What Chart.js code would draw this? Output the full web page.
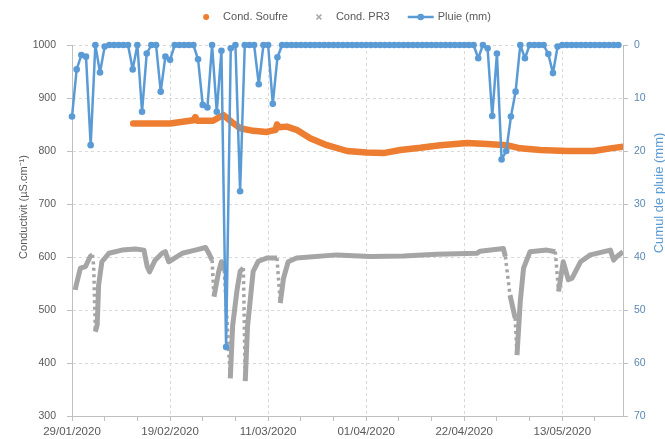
<!DOCTYPE html>
<html><head><meta charset="utf-8">
<script src="https://cdn.jsdelivr.net/npm/chart.js@4.4.1/dist/chart.umd.min.js"></script>
<style>html,body{margin:0;padding:0;background:#fff;}canvas{display:block;}</style>
</head><body>
<canvas id="c" width="665" height="439"></canvas>
<script>
// ---- data (x = days since 29/01/2020) ----
const dateLabels = ['29/01/2020','19/02/2020','11/03/2020','01/04/2020','22/04/2020','13/05/2020'];
const seriesNames = ['Cond. Soufre','Cond. PR3','Pluie (mm)'];
const axisTitles = ['Conductivit (µS.cm⁻¹)','Cumul de pluie (mm)'];

// daily rain, day 0 .. 117
const rainMm = [13.5,4.6,1.9,2.2,18.9,0,5.2,0.3,0,0,
  0,0,0,4.6,0,12.6,1.6,0,0,8.8,
  2.2,2.8,0,0,0,0,0,2.7,11.3,11.8,
  0,12.6,1.1,57,0.6,0,27.6,0,0,0,
  7.4,0,0,11.1,2.3,0,0,0,0,0,
  0,0,0,0,0,0,0,0,0,0,
  0,0,0,0,0,0,0,0,0,0,
  0,0,0,0,0,0,0,0,0,0,
  0,0,0,0,0,0,0,2.5,0,0.6,
  13.4,1.6,21.6,20,13.5,8.8,0,2.5,0,0,
  0,0,1.7,5.3,0.3,0,0,0,0,0,
  0,0,0,0,0,0,0,0];

const soufreDay = [13.1,17.4,21,26,26.4,26.8,30.2,32.4,34.6,36,38.8,41.7,43.6,43.9,44.3,46,48.1,51,54.6,58.9,63.1,66.7,70.3,74.6,78.9,84.6,88.9,93.1,96,100.3,106,111.7,115.3,118];
const soufreVal = [852,852,852,858,864,857,857,868,852,843,838,836,840,850,845,846,840,824,811,800,797,796,802,806,811,815,813,811,805,802,800,800,805,808];

const pr3Day = [0.7,0.9,1.8,2.9,3.9,4.4,4.65,5.0,5.4,5.7,6.4,7.9,10.7,13.6,15.4,16.1,16.6,17.8,19.3,20,20.7,23.6,26.4,28.6,29.3,30,30.4,31.4,32,32.6,33.9,34.4,35.3,36,36.7,37.1,37.6,38.8,39.9,41.7,43.9,44.6,45.3,46.3,48.1,56.7,63.9,71,78.1,86.7,87.4,92.4,92.8,93.8,94.9,95.3,96,96.7,98.1,101.7,103.5,104.2,105.2,106.3,107.1,108.9,111,115.3,116,116.7,118];
const pr3Val = [538,547,579,582,601,604,582,459,472,547,591,607,613,615,613,582,572,594,607,610,591,607,613,618,607,594,525,572,591,575,371,470,535,573,579,366,470,573,592,598,598,513,560,591,598,604,601,602,605,607,611,616,601,528,485,415,516,579,610,613,610,535,591,557,560,591,604,613,594,601,610];

// ---- styling ----
const FONT = '"Liberation Sans", Arial, sans-serif';
const TXT = '#595959';
const COL = {soufre:'#ED7D31', pr3:'#A5A5A5', rain:'#5B9BD5', rainAxis:'#5B87B5'};

const toXY = (xs, ys) => xs.map((x, i) => ({x: x, y: ys[i]}));
const steepDrop = c => {
  const dx = c.p1.parsed.x - c.p0.parsed.x, dy = c.p1.parsed.y - c.p0.parsed.y;
  return dx > 0 && dy / dx < -60;
};

const decor = {
  id: 'decor',
  afterDraw(chart) {
    const ctx = chart.ctx;
    ctx.save();
    ctx.textBaseline = 'middle';
    // axis titles
    ctx.textAlign = 'center';
    ctx.font = '11px ' + FONT;
    ctx.fillStyle = TXT;
    ctx.save(); ctx.translate(24, 207); ctx.rotate(-Math.PI/2); ctx.fillText(axisTitles[0], 0, 0); ctx.restore();
    ctx.font = '13px ' + FONT;
    ctx.fillStyle = COL.rain;
    ctx.save(); ctx.translate(659, 193); ctx.rotate(-Math.PI/2); ctx.fillText(axisTitles[1], 0, 0); ctx.restore();
    // legend
    ctx.font = '11px ' + FONT;
    const ds = chart.data.datasets;
    const iconW = 26, gap = 4, itemGap = 18, cy = 17;
    const widths = ds.map(d => iconW + gap + ctx.measureText(d.label).width);
    const total = widths.reduce((a, b) => a + b, 0) + itemGap * (ds.length - 1);
    let x = 342 - total / 2;
    ctx.textAlign = 'left';
    ds.forEach((d, i) => {
      const cx = x + iconW / 2;
      if (i === 0) {
        ctx.fillStyle = d.borderColor; ctx.beginPath(); ctx.arc(cx, cy, 3, 0, Math.PI*2); ctx.fill();
      } else if (i === 1) {
        ctx.strokeStyle = d.borderColor; ctx.lineWidth = 1.5; ctx.beginPath();
        ctx.moveTo(cx-2.5, cy-2.5); ctx.lineTo(cx+2.5, cy+2.5); ctx.moveTo(cx+2.5, cy-2.5); ctx.lineTo(cx-2.5, cy+2.5); ctx.stroke();
      } else {
        ctx.strokeStyle = d.borderColor; ctx.lineWidth = 2.5; ctx.beginPath();
        ctx.moveTo(x, cy); ctx.lineTo(x + iconW, cy); ctx.stroke();
        ctx.fillStyle = d.borderColor; ctx.beginPath(); ctx.arc(cx, cy, 3.3, 0, Math.PI*2); ctx.fill();
      }
      ctx.fillStyle = TXT;
      ctx.fillText(d.label, x + iconW + gap, cy);
      x += widths[i] + itemGap;
    });
    ctx.restore();
  }
};

new Chart(document.getElementById('c'), {
  type: 'scatter',
  data: {
    datasets: [
      {label: seriesNames[0], data: toXY(soufreDay, soufreVal), yAxisID: 'y', showLine: true,
       borderColor: COL.soufre, backgroundColor: COL.soufre, borderWidth: 6.5, pointRadius: 0,
       borderJoinStyle: 'round', borderCapStyle: 'round', order: 2},
      {label: seriesNames[1], data: toXY(pr3Day, pr3Val), yAxisID: 'y', showLine: true,
       borderColor: COL.pr3, backgroundColor: COL.pr3, borderWidth: 5, pointRadius: 0,
       borderJoinStyle: 'round', order: 3,
       segment: {borderDash: c => steepDrop(c) ? [3, 3.5] : undefined,
                 borderWidth: c => steepDrop(c) ? 3.5 : undefined}},
      {label: seriesNames[2], data: rainMm.map((v, i) => ({x: i, y: v})), yAxisID: 'y2', showLine: true,
       borderColor: COL.rain, backgroundColor: COL.rain, borderWidth: 2.5, pointRadius: 3.3,
       borderJoinStyle: 'round', pointBorderWidth: 0, clip: false, order: 1}
    ]
  },
  options: {
    responsive: false, animation: false, devicePixelRatio: 1,
    layout: {padding: {left: 19, right: 0, top: 45, bottom: 0}},
    plugins: {legend: {display: false}, tooltip: {enabled: false}},
    scales: {
      x: {type: 'linear', min: 0, max: 118,
          afterFit: s => { s.height = 23; },
          ticks: {stepSize: 7, includeBounds: false, autoSkip: false, maxRotation: 0, minRotation: 0,
                  padding: 4, color: TXT, font: {family: FONT, size: 11.5},
                  callback: v => (v % 21 === 0 ? dateLabels[v / 21] : '')},
          grid: {color: c => (c.tick && c.tick.value % 21 === 0 && c.tick.value > 0) ? '#d9d9d9' : 'rgba(0,0,0,0)',
                 tickColor: '#bfbfbf', tickLength: 5, lineWidth: 1},
          border: {color: '#bfbfbf', dash: [3, 3]}},
      y: {position: 'left', min: 300, max: 1000,
          afterFit: s => { s.width = 53; },
          ticks: {stepSize: 100, color: TXT, font: {family: FONT, size: 10.5}, padding: 11,
                  callback: v => String(v)},
          grid: {color: '#d9d9d9', tickColor: '#bfbfbf', tickLength: 5},
          border: {color: '#bfbfbf', dash: [3, 3]}},
      y2: {position: 'right', reverse: true, min: 0, max: 70,
           afterFit: s => { s.width = 42; },
           ticks: {stepSize: 10, color: COL.rainAxis, font: {family: FONT, size: 10.5}, padding: 6,
                   callback: v => String(v)},
           grid: {drawOnChartArea: false, tickColor: '#bfbfbf', tickLength: 5},
           border: {color: '#bfbfbf'}}
    }
  },
  plugins: [decor]
});
</script>
</body></html>
